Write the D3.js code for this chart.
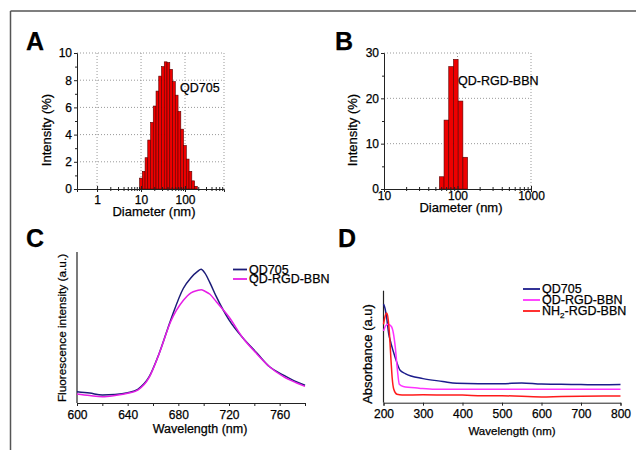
<!DOCTYPE html>
<html>
<head>
<meta charset="utf-8">
<script src="https://cdn.jsdelivr.net/npm/d3@7"></script>
<style>
  body { margin: 0; background: #fff; }
  svg { font-family: "Liberation Sans", Arial, sans-serif; }
  svg text { fill: #000; stroke: #000; stroke-width: 0.25px; }
  .axis path, .axis line { stroke: #222; }
  .axis text { font-size: 12px; }
  .grid { stroke: #999; stroke-dasharray: 1,2; stroke-width: 1; }
</style>
</head>
<body>
<svg width="636" height="450"></svg>
<script>
// Panel A - size distribution of QD705 (bin centre in nm, intensity in %)
var sizeA = [9.95, 11.5, 13.3, 15.3, 17.7, 20.4, 23.6, 27.2, 31.4, 36.3, 41.9, 48.4, 55.9, 64.6, 74.6, 86.1, 99.5, 114.9, 132.7, 153.3, 177.0];
var intA = [0.8, 1.3, 2.3, 3.6, 4.9, 6.1, 7.2, 8.3, 9.0, 9.35, 9.3, 8.8, 7.9, 6.9, 5.7, 4.4, 3.2, 2.2, 1.3, 0.6, 0.2];

// Panel B - size distribution of QD-RGD-BBN
var sizeB = [61.0, 70.6, 81.8, 94.8, 110.0, 127.5];
var intB = [2.7, 15.2, 27.0, 28.6, 19.4, 7.0];

// Panel C - fluorescence spectra
var wlC = [600, 610, 620, 630, 640, 648, 657, 665, 674, 684, 690, 695, 698, 701, 705, 710, 720, 731, 742, 752, 763, 773, 780];
var qdC = [0.075, 0.066, 0.053, 0.056, 0.068, 0.091, 0.174, 0.331, 0.55, 0.76, 0.83, 0.87, 0.885, 0.86, 0.795, 0.704, 0.55, 0.43, 0.331, 0.24, 0.185, 0.141, 0.117];
var rgdC = [0.06, 0.05, 0.042, 0.05, 0.064, 0.086, 0.17, 0.33, 0.54, 0.68, 0.73, 0.745, 0.75, 0.74, 0.72, 0.67, 0.57, 0.43, 0.325, 0.24, 0.174, 0.134, 0.11];

// Panel D - absorbance spectra
var qdD_x = [200, 204, 208, 213, 219, 230, 242, 255, 300, 350, 385, 440, 500, 550, 600, 650, 700, 750, 800];
var qdD_y = [0.88, 0.84, 0.76, 0.62, 0.53, 0.40, 0.29, 0.26, 0.215, 0.19, 0.173, 0.17, 0.17, 0.176, 0.166, 0.164, 0.162, 0.16, 0.162];
var rgdD_x = [200, 206, 212, 220, 225, 230, 235, 240, 250, 290, 330, 400, 500, 600, 700, 800];
var rgdD_y = [0.64, 0.69, 0.70, 0.68, 0.62, 0.49, 0.30, 0.165, 0.145, 0.13, 0.12, 0.12, 0.12, 0.12, 0.12, 0.12];
var nh2D_x = [200, 204, 208, 212, 215, 219, 222, 226, 234, 247, 300, 400, 450, 500, 600, 650, 700, 800];
var nh2D_y = [0.70, 0.77, 0.80, 0.74, 0.62, 0.38, 0.22, 0.12, 0.075, 0.068, 0.07, 0.068, 0.062, 0.062, 0.052, 0.056, 0.058, 0.06];

var svg = d3.select("svg");

// frame lines (top and left)
svg.append("line").attr("x1", 10.5).attr("y1", 11).attr("x2", 636).attr("y2", 11)
    .attr("stroke", "#555").attr("stroke-width", 1.5);
svg.append("line").attr("x1", 10.5).attr("y1", 11).attr("x2", 10.5).attr("y2", 450)
    .attr("stroke", "#555").attr("stroke-width", 1.5);

function panelLetter(txt, x, y) {
    svg.append("text").attr("x", x).attr("y", y).text(txt)
        .attr("font-size", 25).attr("font-weight", "bold");
}

// crossing ticks helper
function crossTicks(g, len) {
    g.selectAll(".tick line").attr("y1", -len).attr("y2", len);
}

// ---- histogram panels ----
function histPanel(opt) {
    var x = d3.scaleLog().domain(opt.xdom).range(opt.xr);
    var y = d3.scaleLinear().domain([0, opt.ymax]).range([189, 53]);
    var g = svg.append("g");

    // gridlines
    opt.yGrid.forEach(function (v) {
        g.append("line").attr("class", "grid")
            .attr("x1", opt.xr[0]).attr("x2", opt.xr[1]).attr("y1", y(v)).attr("y2", y(v));
    });
    opt.xGrid.forEach(function (v) {
        g.append("line").attr("class", "grid")
            .attr("x1", x(v)).attr("x2", x(v)).attr("y1", 53).attr("y2", 189);
    });

    // bars (half bin width in decades)
    var half = 0.0318;
    g.selectAll(".bar").data(opt.sizes).enter().append("rect")
        .attr("x", function (d) { return x(d / Math.pow(10, half)); })
        .attr("width", function (d) { return x(d * Math.pow(10, half)) - x(d / Math.pow(10, half)); })
        .attr("y", function (d, i) { return y(opt.vals[i]); })
        .attr("height", function (d, i) { return 189 - y(opt.vals[i]); })
        .attr("fill", "#ee0000").attr("stroke", "#550000").attr("stroke-width", 0.6);

    // x axis, major + minor
    var xa = g.append("g").attr("class", "axis").attr("transform", "translate(0,189)")
        .call(d3.axisBottom(x).tickValues(opt.xMajor).tickFormat(d3.format("d")).tickSizeOuter(0).tickSize(3));
    crossTicks(xa, 3);
    xa.selectAll("text").attr("y", opt.xTickY).attr("dy", "0.71em");
    var xm = g.append("g").attr("class", "axis").attr("transform", "translate(0,189)")
        .call(d3.axisBottom(x).tickValues(opt.xMinor).tickFormat("").tickSizeOuter(0).tickSize(2));
    crossTicks(xm, 2);
    xm.select(".domain").remove();

    // y axis, major + minor
    g.append("g").attr("class", "axis").attr("transform", "translate(" + opt.xr[0] + ",0)")
        .call(d3.axisLeft(y).tickValues(opt.yMajor).tickSizeOuter(0).tickSize(3).tickPadding(2));
    g.append("g").attr("class", "axis").attr("transform", "translate(" + opt.xr[0] + ",0)")
        .call(d3.axisLeft(y).tickValues(opt.yMinor).tickFormat("").tickSizeOuter(0).tickSize(2))
        .select(".domain").remove();

    g.append("text").attr("transform", "translate(" + opt.ylabX + ",130) rotate(-90)")
        .attr("text-anchor", "middle").attr("font-size", 13).text("Intensity (%)");
    g.append("text").attr("x", opt.xlabX).attr("y", opt.xlabY).attr("text-anchor", "middle")
        .attr("font-size", 13).text("Diameter (nm)");
    g.append("text").attr("x", opt.nameX).attr("y", opt.nameY).attr("font-size", 12.5).text(opt.name);
}

panelLetter("A", 26, 50);
histPanel({
    xdom: [0.35, 770], xr: [77, 224], ymax: 10,
    sizes: sizeA, vals: intA,
    xMajor: [1, 10, 100],
    xMinor: [2, 3, 4, 5, 6, 7, 8, 9, 20, 30, 40, 50, 60, 70, 80, 90, 200, 300, 400, 500, 600, 700],
    yMajor: [0, 2, 4, 6, 8, 10], yMinor: [1, 3, 5, 7, 9],
    yGrid: [2, 4, 6, 8, 10], xGrid: [1, 10, 100, 770],
    xTickY: 6.5, ylabX: 51, xlabX: 154, xlabY: 216,
    name: "QD705", nameX: 180, nameY: 92
});

panelLetter("B", 335, 50);
histPanel({
    xdom: [10, 1000], xr: [384, 531], ymax: 30,
    sizes: sizeB, vals: intB,
    xMajor: [10, 100, 1000],
    xMinor: [20, 30, 40, 50, 60, 70, 80, 90, 200, 300, 400, 500, 600, 700, 800, 900],
    yMajor: [0, 10, 20, 30], yMinor: [5, 15, 25],
    yGrid: [10, 20, 30], xGrid: [100, 1000],
    xTickY: 2.5, ylabX: 357, xlabX: 461, xlabY: 212,
    name: "QD-RGD-BBN", nameX: 458, nameY: 85
});

// ---- spectra panels ----
function specPanel(opt) {
    var x = d3.scaleLinear().domain(opt.xdom).range(opt.xr);
    var y = d3.scaleLinear().domain([0, 1]).range([opt.yb, opt.yt]);
    var g = svg.append("g");

    var xa = g.append("g").attr("class", "axis").attr("transform", "translate(0," + opt.yb + ")")
        .call(d3.axisBottom(x).tickValues(opt.xTicks).tickSizeOuter(0).tickSize(3).tickPadding(4));
    xa.selectAll("text").attr("font-size", 12.5).filter(function (d) { return opt.xLabels.indexOf(d) < 0; }).remove();
    g.append("line").attr("x1", opt.xr[0]).attr("x2", opt.xr[0]).attr("y1", opt.yt).attr("y2", opt.yb)
        .attr("stroke", "#222").attr("stroke-width", 1.2);

    opt.series.forEach(function (s) {
        var pts = s.x.map(function (v, i) { return [v, s.y[i]]; });
        g.append("path").datum(pts)
            .attr("fill", "none").attr("stroke", s.color).attr("stroke-width", 1.5)
            .attr("d", d3.line().x(function (d) { return x(d[0]); }).y(function (d) { return y(d[1]); })
                .curve(d3.curveMonotoneX));
    });

    opt.series.forEach(function (s, i) {
        var ly = opt.legY + i * opt.legStep;
        g.append("line").attr("x1", opt.legX).attr("x2", opt.legX + opt.legLen).attr("y1", ly).attr("y2", ly)
            .attr("stroke", s.color).attr("stroke-width", 1.8);
        var t = g.append("text").attr("x", opt.legX + opt.legLen + 2).attr("y", ly + 4.3)
            .attr("font-size", opt.legFont);
        if (s.sub) {
            t.append("tspan").text(s.name[0]);
            t.append("tspan").text(s.sub).attr("font-size", 8).attr("dy", 3);
            t.append("tspan").text(s.name[1]).attr("dy", -3);
        } else {
            t.text(s.name);
        }
    });

    g.append("text").attr("transform", "translate(" + opt.ylabX + "," + opt.ylabY + ") rotate(-90)")
        .attr("text-anchor", "middle").attr("font-size", opt.ylabFont).text(opt.ylab);
    g.append("text").attr("x", opt.xlabX).attr("y", opt.xlabY).attr("text-anchor", "middle")
        .attr("font-size", opt.xlabFont).text("Wavelength (nm)");
}

panelLetter("C", 26, 247);
specPanel({
    xdom: [600, 780], xr: [77, 305], yb: 403, yt: 252,
    xTicks: [600, 620, 640, 660, 680, 700, 720, 740, 760, 780],
    xLabels: [600, 640, 680, 720, 760],
    series: [
        { x: wlC, y: qdC, color: "#1c1c78", name: "QD705" },
        { x: wlC, y: rgdC, color: "#e61ee6", name: "QD-RGD-BBN" }
    ],
    legX: 233, legY: 269.5, legStep: 9.5, legLen: 14, legFont: 12.5,
    ylab: "Fluorescence intensity (a.u.)", ylabX: 66, ylabY: 328, ylabFont: 11.8,
    xlabX: 200, xlabY: 433, xlabFont: 12.5
});

panelLetter("D", 338, 247);
specPanel({
    xdom: [200, 800], xr: [383.5, 620.5], yb: 402.7, yt: 290.7,
    xTicks: [200, 300, 400, 500, 600, 700, 800],
    xLabels: [200, 300, 400, 500, 600, 700, 800],
    series: [
        { x: qdD_x, y: qdD_y, color: "#1c1c8c", name: "QD705" },
        { x: rgdD_x, y: rgdD_y, color: "#ff33ff", name: "QD-RGD-BBN" },
        { x: nh2D_x, y: nh2D_y, color: "#ff1a1a", name: ["NH", "-RGD-BBN"], sub: "2" }
    ],
    legX: 523, legY: 289, legStep: 11, legLen: 17, legFont: 12.5,
    ylab: "Absorbance (a.u)", ylabX: 372, ylabY: 354, ylabFont: 13,
    xlabX: 512, xlabY: 435, xlabFont: 11.5
});
</script>
</body>
</html>
